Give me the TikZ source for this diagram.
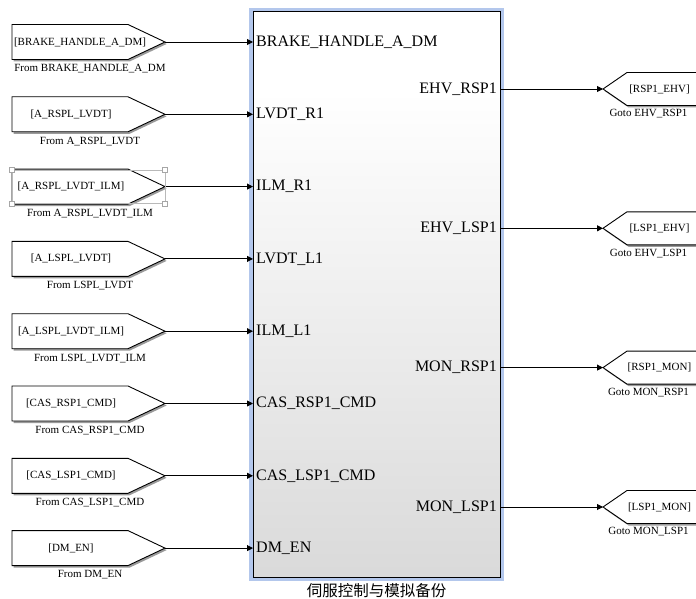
\documentclass[tikz,border=0pt]{standalone}
\usepackage{fontspec}
\setmainfont{Liberation Serif}
\newfontfamily\cjk{Noto Sans CJK SC}
\usetikzlibrary{arrows.meta}
\definecolor{frameblue}{HTML}{B3C7EC}
\definecolor{shadegray}{HTML}{C4C4C4}
\definecolor{tagshadow}{HTML}{9A9A9A}
\pgfdeclareverticalshading{blockshade}{100bp}{color(0bp)=(shadegray); color(68bp)=(white); color(100bp)=(white)}

\begin{document}
\begin{tikzpicture}[x=1pt,y=-1pt,
  small/.style={font=\fontsize{11}{13}\selectfont, inner sep=0pt},
  port/.style={font=\fontsize{16}{19}\selectfont, inner ysep=0pt, inner xsep=3pt},
  sig/.style={draw=black, line width=0.9pt, -{Triangle[length=6pt,width=6pt]}},
  tagline/.style={draw=black, line width=0.9pt, fill=white, line join=miter},
  tagshade/.style={fill=tagshadow},
  handle/.style={draw=gray!70, fill=white, line width=0.5pt, minimum size=5pt, inner sep=0pt},
]
\useasboundingbox (0,0) rectangle (696,599);
\clip (0,0) rectangle (696,599);
\fill[white] (0,0) rectangle (696,599);

% subsystem block with its blue frame
\node[fill=frameblue, minimum width=255pt, minimum height=572pt, inner sep=0pt] (halo) at (376,294.5) {};
\node[draw=black, line width=1pt, shading=blockshade, minimum width=247pt, minimum height=565pt, inner sep=0pt] (blk) at (376.5,294.5) {};
\node[font=\fontsize{15.5}{18}\selectfont\cjk, inner sep=0pt] (cap) at (376.5,591) {伺服控制与模拟备份};

% From tags on the left
\foreach \i/\y/\tag/\tx/\lab/\port in {
  1/42/{[BRAKE\_HANDLE\_A\_DM]}/80/{From BRAKE\_HANDLE\_A\_DM}/{BRAKE\_HANDLE\_A\_DM},
  2/114.3/{[A\_RSPL\_LVDT]}/71/{From A\_RSPL\_LVDT}/{LVDT\_R1},
  3/186.6/{[A\_RSPL\_LVDT\_ILM]}/71/{From A\_RSPL\_LVDT\_ILM}/{ILM\_R1},
  4/258.9/{[A\_LSPL\_LVDT]}/71/{From LSPL\_LVDT}/{LVDT\_L1},
  5/331.2/{[A\_LSPL\_LVDT\_ILM]}/71/{From LSPL\_LVDT\_ILM}/{ILM\_L1},
  6/403.5/{[CAS\_RSP1\_CMD]}/71/{From CAS\_RSP1\_CMD}/{CAS\_RSP1\_CMD},
  7/475.8/{[CAS\_LSP1\_CMD]}/71/{From CAS\_LSP1\_CMD}/{CAS\_LSP1\_CMD},
  8/548.1/{[DM\_EN]}/71/{From DM\_EN}/{DM\_EN}}{
  \fill[tagshade, shift={(1.6,2)}] (12,\y-17.5) -- (128,\y-17.5) -- (165,\y) -- (128,\y+17.5) -- (12,\y+17.5) -- cycle;
  \path[tagline] (12,\y-17.5) -- (128,\y-17.5) -- (165,\y) -- (128,\y+17.5) -- (12,\y+17.5) -- cycle;
  \coordinate (tip\i) at (165,\y);
  \node[small] (tag\i) at (\tx,\y) {\tag};
  \node[small] (lab\i) at (90,\y+27) {\lab};
  \node[port, anchor=west] (in\i) at (253,\y) {\port};
  \draw[sig] (tip\i) -- (in\i.west);
}

% selection handles around the third tag
\draw[gray!55, line width=0.5pt] (12,170) rectangle (165,203.5);
\foreach \c/\p in {h1/{(12,170)}, h2/{(165,170)}, h3/{(12,203.5)}, h4/{(165,203.5)}}
  \node[handle] (\c) at \p {};

% Goto tags on the right
\foreach \i/\y/\tag/\lab/\port in {
  1/89/{[RSP1\_EHV]}/{Goto EHV\_RSP1}/{EHV\_RSP1},
  2/228.3/{[LSP1\_EHV]}/{Goto EHV\_LSP1}/{EHV\_LSP1},
  3/367.6/{[RSP1\_MON]}/{Goto MON\_RSP1}/{MON\_RSP1},
  4/507/{[LSP1\_MON]}/{Goto MON\_LSP1}/{MON\_LSP1}}{
  \fill[tagshade, shift={(1.6,2)}] (603,\y) -- (627,\y-16.5) -- (720,\y-16.5) -- (720,\y+16.5) -- (627,\y+16.5) -- cycle;
  \path[tagline] (603,\y) -- (627,\y-16.5) -- (720,\y-16.5) -- (720,\y+16.5) -- (627,\y+16.5) -- cycle;
  \coordinate (gt\i) at (603,\y);
  \node[small] (gtag\i) at (659.5,\y) {\tag};
  \node[small] (glab\i) at (648.5,\y+25) {\lab};
  \node[port, anchor=east] (out\i) at (500,\y) {\port};
  \draw[sig] (out\i.east) -- (gt\i);
}
\end{tikzpicture}
\end{document}
